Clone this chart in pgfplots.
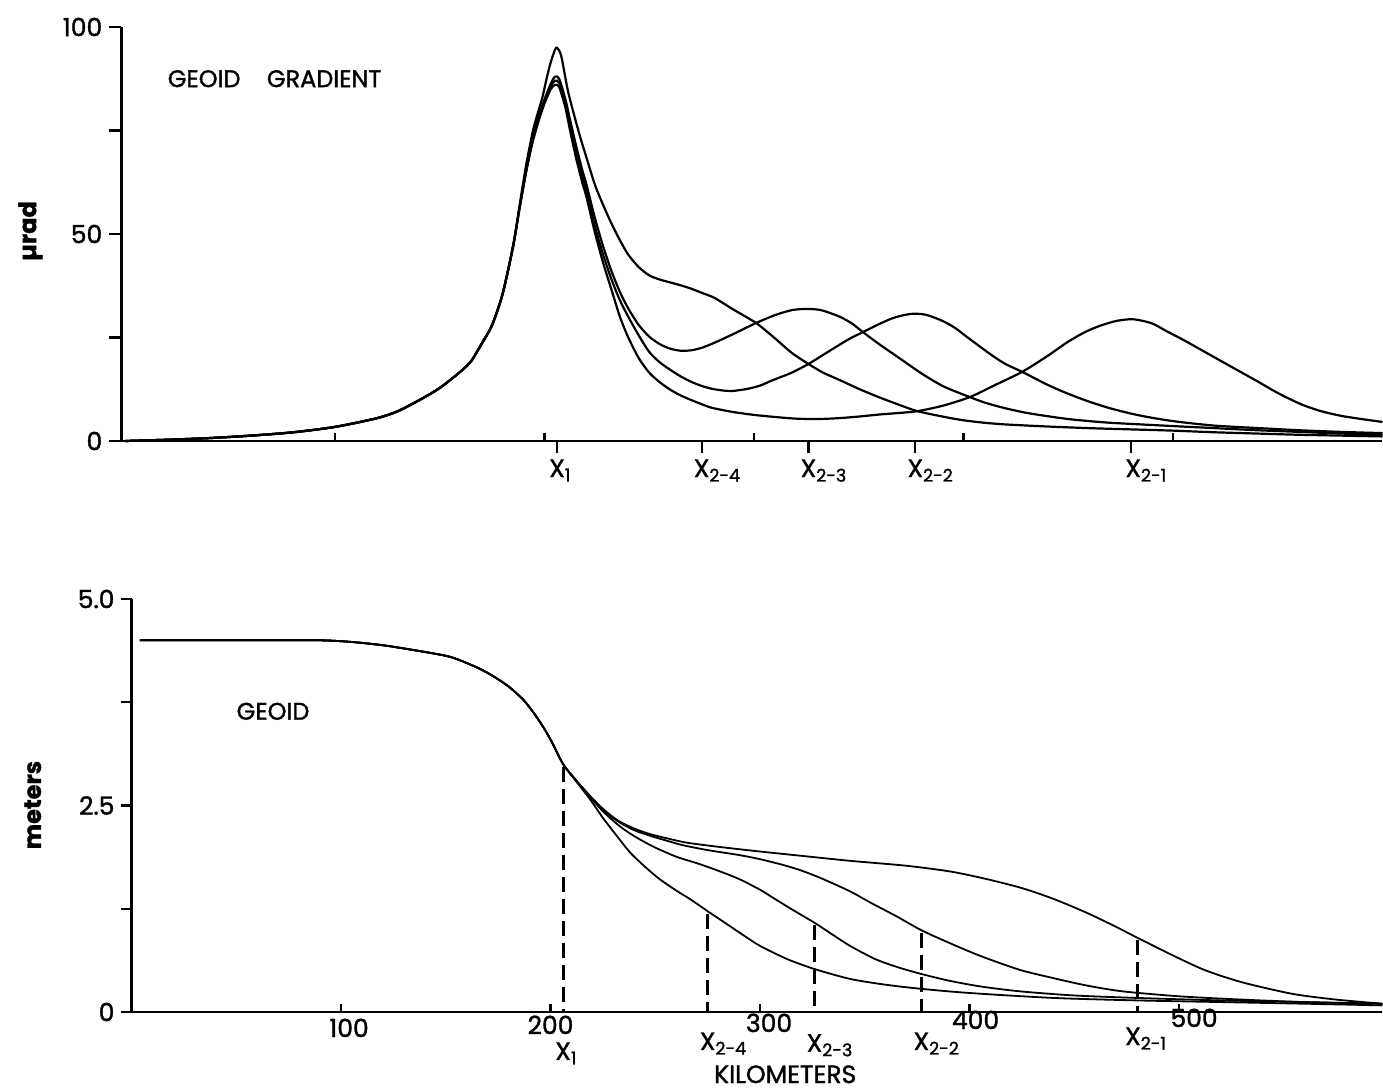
\documentclass[border=0pt]{standalone}
\usepackage{fontspec}
\setmainfont{Poppins}[FakeBold=1.4]
\usepackage{pgfplots}
\pgfplotsset{compat=1.18}

% raise a tick label without changing the box that pgfplots anchors
\newcommand{\lift}[2]{\raisebox{#1}[9pt][0pt]{#2}}

\pgfplotsset{
  geo/.style={
    scale only axis, clip=false,
    axis x line*=bottom, axis y line*=left,
    axis line style={line width=1.3pt},
    tick style={line width=1.1pt, black},
    tick align=outside,
    major tick length=5pt,
    tick label style={font=\fontsize{12.5}{14}\selectfont},
    /pgf/number format/assume math mode=true,
  },
  curve/.style={black, line width=1.1pt, smooth, tension=0.45},
  drop/.style={black, line width=1.5pt, dash pattern=on 7.5pt off 3.5pt},
}

\begin{document}
\begin{tikzpicture}

% ---------- geoid gradient ----------
\begin{axis}[geo,
  at={(60.65pt,325pt)}, anchor=south west,
  width=630.6pt, height=207pt,
  xmin=-2, xmax=600, ymin=0, ymax=100,
  xtick={206,275,326,377,480}, xticklabels={},
  major tick length=6pt,
  extra x ticks={100,200,300,400,500}, extra x tick labels={},
  extra x tick style={tick align=inside, major tick length=4pt},
  ytick={0,25,50,75,100}, yticklabels={0,,50,,100},
]
% X2-4
\addplot[curve] coordinates {
(0,0) (20,0.3) (40,0.7) (60,1.3) (80,2.1) (100,3.4) (120,5.5) (130,7.2) (140,9.8)
(150,12.8) (160,16.8) (165,19.3) (170,23.5) (175,28) (180,35.5) (185,47) (188,56.5)
(191,66) (194.5,75) (197,79.5) (199,83) (201,87.5) (203,91.5) (205,94.5) (206,95)
(208,93) (211,85) (214,79) (217,73.5) (220,68.5) (224,62) (228,57) (232,52.5)
(236,48.5) (240,45) (245,42) (250,40) (255,39) (260,38.3) (265,37.6) (270,36.8)
(275,35.8) (281,34.6) (290,31.8) (301,28.5) (310,24.8) (318,21.3) (326,18.6)
(333,16.5) (341,14.7) (350,12.6) (360,10.5) (370,8.6) (378,7.2) (390,5.9) (400,5.0)
(410,4.4) (420,4.0) (440,3.5) (460,3.1) (480,2.8) (500,2.5) (520,2.1) (540,1.8)
(560,1.5) (580,1.3) (600,1.1)};
% X2-3
\addplot[curve] coordinates {
(0,0) (20,0.3) (40,0.7) (60,1.3) (80,2.1) (100,3.4) (120,5.5) (130,7.2) (140,9.8)
(150,12.8) (160,16.8) (165,19.3) (170,23.5) (175,28) (180,35.5) (185,47) (188,56)
(191,64.5) (194,72.2) (197,78) (200,82.5) (203,86.3) (205,88) (207,87.5) (210,82.5)
(212,78) (215,71.5) (218,65.5) (220,62) (224,54) (228,47) (232,41) (236,36) (240,32)
(245,28) (250,25.2) (255,23.4) (260,22.3) (265,21.8) (270,21.9) (275,22.5) (281,23.7)
(290,25.8) (301,28.5) (310,30.4) (318,31.6) (325,31.9) (332,31.6) (341,30) (347,28.3)
(352,26.3) (360,23.3) (370,19.8) (380,16.3) (390,13.3) (400,11.2) (410,9.3) (420,7.9)
(430,6.8) (440,6.0) (450,5.3) (460,4.8) (470,4.4) (481,4.1) (500,3.6) (520,3.1)
(540,2.6) (560,2.2) (580,1.8) (600,1.5)};
% X2-2
\addplot[curve] coordinates {
(0,0) (20,0.3) (40,0.7) (60,1.3) (80,2.1) (100,3.4) (120,5.5) (130,7.2) (140,9.8)
(150,12.8) (160,16.8) (165,19.3) (170,23.5) (175,28) (180,35.5) (185,47) (188,56)
(191,64.5) (194,72) (197,77.5) (200,82) (203,85.7) (205,87) (207,86.5) (210,81.5)
(212,77) (215,70) (218,64) (220,60.5) (224,52) (228,45) (232,39) (236,34) (240,30)
(245,25.5) (250,21.5) (255,19) (260,17.2) (265,15.6) (270,14.3) (275,13.3) (280,12.6)
(285,12.2) (290,12.1) (297,12.6) (303,13.4) (309,14.7) (318,16.5) (326,18.6)
(333,20.8) (340,23) (346,24.8) (352,26.3) (360,28.3) (367,29.8) (375,30.7) (382,30.5)
(390,29) (396,27.3) (402,25) (410,22) (415,20.2) (420,18.6) (428,16.7) (440,13.6)
(449,11.6) (460,9.5) (470,7.9) (481,6.5) (490,5.6) (500,4.8) (510,4.2) (520,3.7)
(530,3.4) (545,3.0) (560,2.6) (580,2.2) (600,1.9)};
% X2-1
\addplot[curve] coordinates {
(0,0) (20,0.3) (40,0.7) (60,1.3) (80,2.1) (100,3.4) (120,5.5) (130,7.2) (140,9.8)
(150,12.8) (160,16.8) (165,19.3) (170,23.5) (175,28) (180,35.5) (185,47) (188,56)
(191,64.5) (194,71.5) (197,77) (200,81.5) (203,85) (205,86) (207,85.5) (210,80.5)
(212,75.5) (215,68.5) (218,62.5) (220,59) (224,50.5) (228,43) (232,36.5) (236,30)
(240,25) (245,20) (250,16.5) (255,14.2) (260,12.4) (265,11) (270,9.9) (275,8.9)
(280,8.0) (290,7.0) (300,6.3) (310,5.8) (320,5.4) (330,5.3) (340,5.5) (350,5.9)
(360,6.4) (370,6.8) (378,7.2) (390,8.5) (403,10.6) (415,13.5) (428,16.7) (440,20.5)
(450,24) (458,26.3) (465,27.8) (473,29) (481,29.4) (490,28.4) (497,26.5) (505,24.4)
(517,21) (529,17.6) (540,14.5) (550,11.6) (561,8.9) (570,7.3) (580,6.1) (590,5.3)
(600,4.6)};

\node[anchor=west, inner sep=0pt, font=\fontsize{12}{14}\selectfont] at (axis cs:20,87.5)
  {GEOID\hspace{1.1em}GRADIENT};
\node[rotate=90, font=\bfseries\fontsize{12}{14}\selectfont] at (rel axis cs:-0.072,0.507) {µrad};

\begin{scope}[every node/.style={anchor=base, font=\fontsize{12.5}{14}\selectfont}]
\node at (axis cs:206,-8.7) {X\rlap{\textsubscript{1}}};
\node at (axis cs:275,-8.7) {X\rlap{\textsubscript{2-4}}};
\node at (axis cs:326,-8.7) {X\rlap{\textsubscript{2-3}}};
\node at (axis cs:377,-8.7) {X\rlap{\textsubscript{2-2}}};
\node at (axis cs:481,-8.7) {X\rlap{\textsubscript{2-1}}};
\end{scope}
\end{axis}

% ---------- geoid ----------
\begin{axis}[geo,
  at={(65.75pt,39.5pt)}, anchor=south west,
  width=625.4pt, height=206.5pt,
  xmin=0, xmax=597, ymin=0, ymax=5,
  xtick=\empty,
  extra x ticks={100,200,300,400,500},
  extra x tick labels={\hspace*{8pt}\lift{0pt}{100},
                       \lift{1.5pt}{200},
                       \hspace*{9pt}\lift{2.5pt}{300},
                       \hspace*{6pt}\lift{4pt}{400},
                       \hspace*{15pt}\lift{5pt}{500}},
  extra x tick style={tick align=inside, major tick length=4pt},
  ytick={0,1.25,2.5,3.75,5}, yticklabels={0,,2.5,,5.0},
]
% X2-4
\addplot[curve, line width=0.9pt] coordinates {
(4,4.5) (30,4.5) (60,4.5) (90,4.5) (105,4.48) (120,4.44) (135,4.38) (152,4.30)
(165,4.17) (173,4.06) (180,3.94) (187,3.78) (192,3.62) (197,3.43) (201,3.25) (206,3.0)
(212,2.8) (219,2.57) (225,2.35) (232,2.12) (238,1.93) (245,1.76) (252,1.61) (260,1.47)
(267,1.36) (275,1.22) (285,1.05) (292,0.93) (300,0.8) (313,0.64) (326,0.52) (343,0.40)
(360,0.33) (377,0.28) (400,0.23) (440,0.17) (480,0.14) (520,0.12) (560,0.1) (597,0.08)};
% X2-3
\addplot[curve, line width=0.9pt] coordinates {
(4,4.5) (30,4.5) (60,4.5) (90,4.5) (105,4.48) (120,4.44) (135,4.38) (152,4.30)
(165,4.17) (173,4.06) (180,3.94) (187,3.78) (192,3.62) (197,3.43) (201,3.25) (206,3.0)
(212,2.81) (219,2.6) (225,2.43) (232,2.27) (238,2.16) (244,2.07) (250,1.99) (260,1.88)
(270,1.8) (279,1.72) (290,1.61) (300,1.48) (307,1.37) (316,1.23) (326,1.08) (335,0.93)
(343,0.8) (355,0.64) (366,0.54) (377,0.46) (390,0.38) (405,0.31) (424,0.25) (450,0.2)
(480,0.17) (520,0.14) (560,0.12) (597,0.1)};
% X2-2
\addplot[curve, line width=0.9pt] coordinates {
(4,4.5) (30,4.5) (60,4.5) (90,4.5) (105,4.48) (120,4.44) (135,4.38) (152,4.30)
(165,4.17) (173,4.06) (180,3.94) (187,3.78) (192,3.62) (197,3.43) (201,3.25) (206,3.0)
(212,2.81) (219,2.61) (225,2.45) (232,2.31) (240,2.2) (248,2.13) (256,2.07) (263,2.02)
(275,1.96) (290,1.9) (300,1.85) (311,1.78) (320,1.71) (330,1.61) (343,1.46) (353,1.32)
(365,1.16) (377,0.99) (390,0.84) (405,0.68) (424,0.51) (440,0.41) (456,0.32) (473,0.25)
(500,0.19) (530,0.15) (560,0.12) (597,0.1)};
% X2-1
\addplot[curve, line width=0.9pt] coordinates {
(4,4.5) (30,4.5) (60,4.5) (90,4.5) (105,4.48) (120,4.44) (135,4.38) (152,4.30)
(165,4.17) (173,4.06) (180,3.94) (187,3.78) (192,3.62) (197,3.43) (201,3.25) (206,3.0)
(212,2.81) (219,2.61) (225,2.46) (232,2.32) (240,2.22) (248,2.15) (256,2.1) (265,2.05)
(280,2.0) (301,1.94) (320,1.89) (343,1.83) (370,1.77) (391,1.7) (408,1.61) (425,1.5)
(440,1.37) (456,1.2) (470,1.03) (480,0.9) (495,0.71) (512,0.51) (530,0.36) (554,0.22)
(575,0.15) (597,0.1)};

% drop lines from each source position
\addplot[drop] coordinates {(206,2.97) (206,0)};
\addplot[drop] coordinates {(275,1.19) (275,0)};
\addplot[drop] coordinates {(326,1.05) (326,0)};
\addplot[drop] coordinates {(377,0.96) (377,0)};
\addplot[drop] coordinates {(480,0.87) (480,0)};

\node[anchor=west, inner sep=0pt, font=\fontsize{12}{14}\selectfont] at (axis cs:50,3.64) {GEOID};
\node[rotate=90, font=\bfseries\fontsize{12}{14}\selectfont] at (rel axis cs:-0.079,0.501) {meters};

\begin{scope}[every node/.style={anchor=base, font=\fontsize{12.5}{14}\selectfont}]
\node at (axis cs:206,-0.58) {X\rlap{\textsubscript{1}}};
\node at (axis cs:275,-0.46) {X\rlap{\textsubscript{2-4}}};
\node at (axis cs:326,-0.48) {X\rlap{\textsubscript{2-3}}};
\node at (axis cs:377,-0.46) {X\rlap{\textsubscript{2-2}}};
\node at (axis cs:478,-0.40) {X\rlap{\textsubscript{2-1}}};
\node[inner sep=0pt] at (axis cs:312,-0.86) {KILOMETERS};
\end{scope}
\end{axis}

\pgfresetboundingbox
\path[use as bounding box] (0,0) rectangle (691.5pt,545.5pt);
\end{tikzpicture}
\end{document}
